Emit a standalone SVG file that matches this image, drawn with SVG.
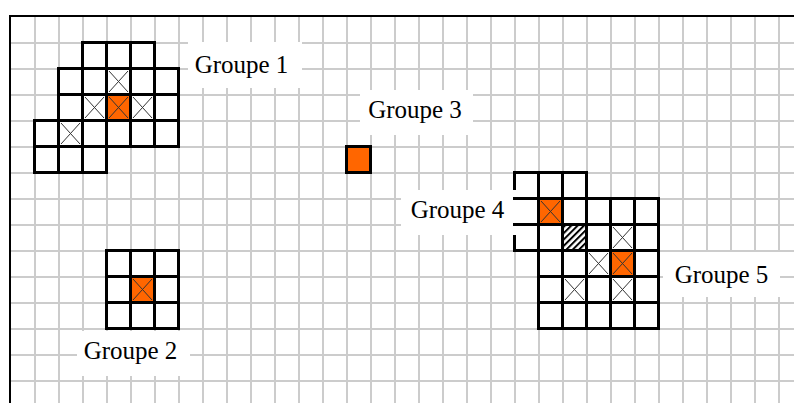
<svg xmlns="http://www.w3.org/2000/svg" xmlns:xlink="http://www.w3.org/1999/xlink" width="794" height="403" viewBox="0 0 794 403">
<style>
.grid{stroke:#cccccc;stroke-width:2;fill:none}
.border{stroke:#000;stroke-width:2;fill:none}
.c{fill:#fff;stroke:#000;stroke-width:3}
.o{fill:#ff6600;stroke:#000;stroke-width:3}
.h{fill:url(#hatch);stroke:#000;stroke-width:3}
.x{stroke:#333;stroke-width:1;fill:none}
.box{fill:#fff}
.lbl{font-family:"Liberation Serif","Times New Roman",serif;font-size:25px;fill:#000;text-anchor:middle}
.edge{stroke:#000;stroke-width:3;fill:none}
</style>
<defs>
<pattern id="hatch" patternUnits="userSpaceOnUse" width="4.5" height="4.5" patternTransform="rotate(45)">
<rect width="4.5" height="4.5" fill="#fff"/>
<line x1="1" y1="0" x2="1" y2="4.5" stroke="#000" stroke-width="2"/>
</pattern>
<path id="xm" d="M2.5 2.5L21.5 23.5M21.5 2.5L2.5 23.5"/>
</defs>
<rect width="794" height="403" fill="#fff"/>
<g id="grid">
<path class="grid" d="M35 17V403M59 17V403M83 17V403M107 17V403M131 17V403M155 17V403M179 17V403M203 17V403M227 17V403M251 17V403M275 17V403M299 17V403M323 17V403M347 17V403M371 17V403M395 17V403M419 17V403M443 17V403M467 17V403M491 17V403M515 17V403M539 17V403M563 17V403M587 17V403M611 17V403M635 17V403M659 17V403M683 17V403M707 17V403M731 17V403M755 17V403M779 17V403"/>
<path class="grid" d="M11 43H794M11 69H794M11 95H794M11 121H794M11 147H794M11 173H794M11 199H794M11 225H794M11 251H794M11 277H794M11 303H794M11 329H794M11 355H794M11 381H794"/>
<path class="border" d="M10 403V16H794"/>
</g>
<g id="groupe1">
<rect class="box" x="188" y="42" width="114" height="46"/>
<text class="lbl" x="241.5" y="73">Groupe 1</text>
<rect class="c" x="82.5" y="42.5" width="24" height="26"/>
<rect class="c" x="106.5" y="42.5" width="24" height="26"/>
<rect class="c" x="130.5" y="42.5" width="24" height="26"/>
<rect class="c" x="58.5" y="68.5" width="24" height="26"/>
<rect class="c" x="82.5" y="68.5" width="24" height="26"/>
<rect class="c" x="106.5" y="68.5" width="24" height="26"/>
<rect class="c" x="130.5" y="68.5" width="24" height="26"/>
<rect class="c" x="154.5" y="68.5" width="24" height="26"/>
<rect class="c" x="58.5" y="94.5" width="24" height="26"/>
<rect class="c" x="82.5" y="94.5" width="24" height="26"/>
<rect class="o" x="106.5" y="94.5" width="24" height="26"/>
<rect class="c" x="130.5" y="94.5" width="24" height="26"/>
<rect class="c" x="154.5" y="94.5" width="24" height="26"/>
<rect class="c" x="34.5" y="120.5" width="24" height="26"/>
<rect class="c" x="58.5" y="120.5" width="24" height="26"/>
<rect class="c" x="82.5" y="120.5" width="24" height="26"/>
<rect class="c" x="106.5" y="120.5" width="24" height="26"/>
<rect class="c" x="130.5" y="120.5" width="24" height="26"/>
<rect class="c" x="154.5" y="120.5" width="24" height="26"/>
<rect class="c" x="34.5" y="146.5" width="24" height="26"/>
<rect class="c" x="58.5" y="146.5" width="24" height="26"/>
<rect class="c" x="82.5" y="146.5" width="24" height="26"/>
<use href="#xm" xlink:href="#xm" class="x" x="106.5" y="68.5"/>
<use href="#xm" xlink:href="#xm" class="x" x="82.5" y="94.5"/>
<use href="#xm" xlink:href="#xm" class="x" x="106.5" y="94.5"/>
<use href="#xm" xlink:href="#xm" class="x" x="130.5" y="94.5"/>
<use href="#xm" xlink:href="#xm" class="x" x="58.5" y="120.5"/>
</g>
<g id="groupe2">
<rect class="box" x="77" y="331" width="113" height="45"/>
<text class="lbl" x="130.5" y="359">Groupe 2</text>
<rect class="c" x="106.5" y="250.5" width="24" height="26"/>
<rect class="c" x="130.5" y="250.5" width="24" height="26"/>
<rect class="c" x="154.5" y="250.5" width="24" height="26"/>
<rect class="c" x="106.5" y="276.5" width="24" height="26"/>
<rect class="o" x="130.5" y="276.5" width="24" height="26"/>
<rect class="c" x="154.5" y="276.5" width="24" height="26"/>
<rect class="c" x="106.5" y="302.5" width="24" height="26"/>
<rect class="c" x="130.5" y="302.5" width="24" height="26"/>
<rect class="c" x="154.5" y="302.5" width="24" height="26"/>
<use href="#xm" xlink:href="#xm" class="x" x="130.5" y="276.5"/>
</g>
<g id="groupe3">
<rect class="box" x="360" y="90" width="113" height="45"/>
<text class="lbl" x="415" y="118">Groupe 3</text>
<rect class="o" x="346.5" y="146.5" width="24" height="26"/>
</g>
<g id="groupe5">
<rect class="box" x="663" y="252" width="117" height="45"/>
<text class="lbl" x="721.5" y="283">Groupe 5</text>
<rect class="c" x="586.5" y="198.5" width="24" height="26"/>
<rect class="c" x="610.5" y="198.5" width="24" height="26"/>
<rect class="c" x="634.5" y="198.5" width="24" height="26"/>
<rect class="c" x="586.5" y="224.5" width="24" height="26"/>
<rect class="c" x="610.5" y="224.5" width="24" height="26"/>
<rect class="c" x="634.5" y="224.5" width="24" height="26"/>
<rect class="c" x="538.5" y="250.5" width="24" height="26"/>
<rect class="c" x="562.5" y="250.5" width="24" height="26"/>
<rect class="c" x="586.5" y="250.5" width="24" height="26"/>
<rect class="o" x="610.5" y="250.5" width="24" height="26"/>
<rect class="c" x="634.5" y="250.5" width="24" height="26"/>
<rect class="c" x="538.5" y="276.5" width="24" height="26"/>
<rect class="c" x="562.5" y="276.5" width="24" height="26"/>
<rect class="c" x="586.5" y="276.5" width="24" height="26"/>
<rect class="c" x="610.5" y="276.5" width="24" height="26"/>
<rect class="c" x="634.5" y="276.5" width="24" height="26"/>
<rect class="c" x="538.5" y="302.5" width="24" height="26"/>
<rect class="c" x="562.5" y="302.5" width="24" height="26"/>
<rect class="c" x="586.5" y="302.5" width="24" height="26"/>
<rect class="c" x="610.5" y="302.5" width="24" height="26"/>
<rect class="c" x="634.5" y="302.5" width="24" height="26"/>
<use href="#xm" xlink:href="#xm" class="x" x="610.5" y="224.5"/>
<use href="#xm" xlink:href="#xm" class="x" x="586.5" y="250.5"/>
<use href="#xm" xlink:href="#xm" class="x" x="610.5" y="250.5"/>
<use href="#xm" xlink:href="#xm" class="x" x="562.5" y="276.5"/>
<use href="#xm" xlink:href="#xm" class="x" x="610.5" y="276.5"/>
</g>
<g id="groupe4">
<rect class="c" x="514.5" y="172.5" width="24" height="26"/>
<rect class="c" x="538.5" y="172.5" width="24" height="26"/>
<rect class="c" x="562.5" y="172.5" width="24" height="26"/>
<rect class="c" x="514.5" y="198.5" width="24" height="26"/>
<rect class="o" x="538.5" y="198.5" width="24" height="26"/>
<rect class="c" x="562.5" y="198.5" width="24" height="26"/>
<rect class="c" x="514.5" y="224.5" width="24" height="26"/>
<rect class="c" x="538.5" y="224.5" width="24" height="26"/>
<rect class="h" x="562.5" y="224.5" width="24" height="26"/>
<use href="#xm" xlink:href="#xm" class="x" x="538.5" y="198.5"/>
<rect class="box" x="401" y="190" width="115.5" height="45"/>
<path class="edge" d="M513 198.5H517M513 224.5H517"/>
<text class="lbl" x="457.5" y="218">Groupe 4</text>
</g>
</svg>
